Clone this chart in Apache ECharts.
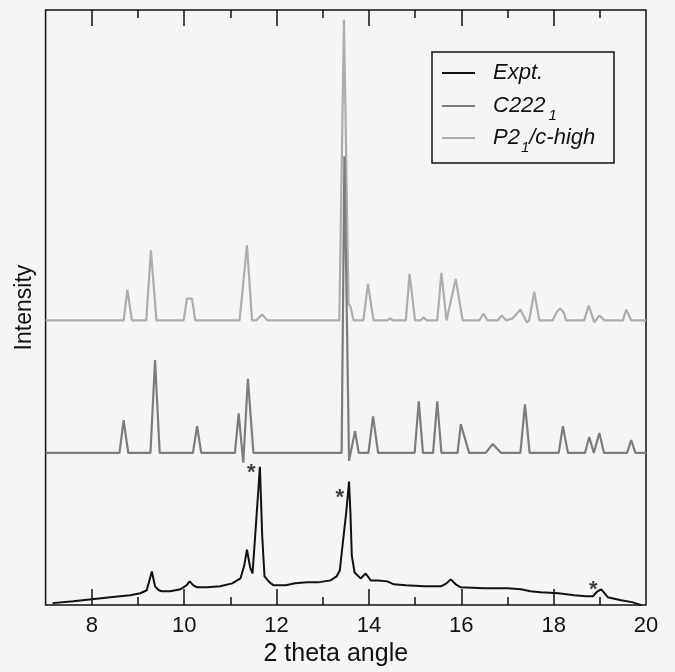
<!DOCTYPE html>
<html><head><meta charset="utf-8">
<script src="https://cdn.jsdelivr.net/npm/echarts@6/dist/echarts.min.js"></script>
<style>html,body{margin:0;padding:0;background:#f5f5f5}#c{width:675px;height:672px}</style>
</head><body><div id="c"></div>
<script>
// ---------- data ----------
const seriesNames = ['Expt.', 'C222₁', 'P2₁/c-high'];
const xRange = [7, 20];
const yRange = [0, 602];
const majorTicks = [8, 10, 12, 14, 16, 18, 20];
const minorTicks = [9, 11, 13, 15, 17, 19];

// experimental pattern [2theta, intensity]
const exptData = [
  [7.15,2],[7.6,4],[8.0,6],[8.4,8],[8.83,10],[9.05,12],[9.19,15],[9.30,34],[9.37,19],[9.45,15],
  [9.52,14],[9.7,14],[9.92,16],[10.05,20],[10.12,24],[10.2,20],[10.28,18],[10.5,18],[10.78,19],
  [11.04,22],[11.22,27],[11.30,40],[11.36,56],[11.43,38],[11.48,32],[11.56,85],[11.64,140],
  [11.69,70],[11.74,29],[11.85,23],[11.94,20],[12.2,20],[12.4,22],[12.66,23],[12.9,23],[13.17,25],
  [13.30,29],[13.37,35],[13.44,65],[13.51,94],[13.57,125],[13.60,94],[13.63,50],[13.69,33],
  [13.82,27],[13.93,32],[14.04,25],[14.2,25],[14.40,24],[14.54,21],[14.8,20],[15.2,19],[15.56,19],
  [15.68,22],[15.77,26],[15.88,21],[15.99,18],[16.5,17],[17.0,17],[17.29,16],[17.5,14],[17.72,13],
  [18.1,12],[18.45,10],[18.7,9],[18.85,9],[18.95,14],[19.03,16],[19.1,12],[19.17,8],[19.46,5],
  [19.70,3],[19.90,0]
];

// simulated C222_1 pattern (relative to its own baseline)
const c222Data = [
  [7.0,0],[8.6,0],[8.69,33],[8.79,0],
  [9.27,0],[9.37,94],[9.47,0],
  [10.19,0],[10.28,27],[10.37,0],
  [11.10,0],[11.18,40],[11.28,-10],[11.38,75],[11.50,0],
  [13.41,0],[13.47,300],[13.57,-8],[13.70,22],[13.78,0],
  [13.99,0],[14.09,37],[14.20,0],
  [14.99,0],[15.08,52],[15.17,0],
  [15.39,0],[15.48,52],[15.57,0],
  [15.92,0],[15.99,29],[16.17,0],
  [16.53,0],[16.68,9],[16.86,0],
  [17.28,0],[17.38,49],[17.48,0],
  [18.11,0],[18.20,27],[18.31,0],
  [18.68,0],[18.77,16],[18.87,0],[18.99,20],[19.09,0],
  [19.59,0],[19.68,13],[19.77,0],[20,0]
];

// simulated P2_1/c-high pattern (relative to its own baseline)
const p21cData = [
  [7.0,0],[8.69,0],[8.77,31],[8.87,0],
  [9.18,0],[9.28,71],[9.40,0],
  [9.99,0],[10.06,22],[10.17,22],[10.24,0],
  [11.20,0],[11.36,76],[11.47,0],[11.56,0],[11.69,6],[11.80,0],
  [13.36,0],[13.46,304],[13.56,17],[13.60,14],[13.67,0],
  [13.88,0],[13.98,37],[14.10,0],
  [14.40,0],[14.46,2],[14.52,0],
  [14.80,0],[14.88,47],[15.00,0],
  [15.12,0],[15.18,3],[15.26,0],
  [15.48,0],[15.57,48],[15.68,0],[15.88,42],[16.03,0],
  [16.39,0],[16.48,7],[16.57,0],
  [16.79,0],[16.88,5],[16.97,0],
  [17.11,2],[17.28,11],[17.42,-2],[17.47,0],[17.58,29],[17.69,0],
  [17.98,0],[18.06,8],[18.14,12],[18.22,8],[18.27,0],
  [18.66,0],[18.76,15],[18.88,-2],[18.99,5],[19.10,0],
  [19.50,0],[19.57,11],[19.68,0],[20,0]
];

const c222Offset = 154;
const p21cOffset = 288;

// asterisks marking impurity peaks in the experiment
const starPoints = [[11.455,140],[13.37,114],[18.86,21]];

// ---------- chart ----------
const FONT = '"Liberation Sans", Arial, Helvetica, sans-serif';
const shift = (arr, off) => arr.map(p => [p[0], p[1] + off]);
const colors = ['#111111', '#7c7c7c', '#adadad'];

const ctx = document.createElement('canvas').getContext('2d');
function tw(t, size) { ctx.font = 'italic ' + size + 'px ' + FONT; return ctx.measureText(t).width; }

const axisBase = {
  type: 'value', min: xRange[0], max: xRange[1], interval: 1,
  axisLine: { show: false }, splitLine: { show: false }
};
const tickStyle = { color: '#111', width: 1.5 };

const LX = 493, FS = 22, SFS = 15, SUBDY = 10;
const rowY = [73, 106, 138];
function txt(t, x, y, size) {
  return { type: 'text', x: x, y: y, style: { text: t, fontSize: size, fontStyle: 'italic', fontFamily: FONT, fill: '#111', verticalAlign: 'middle' } };
}
const legendGraphic = [
  { type: 'rect', shape: { x: 432, y: 52, width: 182, height: 111 }, style: { fill: 'none', stroke: '#111', lineWidth: 1.5 } },
  { type: 'line', shape: { x1: 442, y1: rowY[0], x2: 475, y2: rowY[0] }, style: { stroke: colors[0], lineWidth: 2 } },
  txt('Expt.', LX, rowY[0], FS),
  { type: 'line', shape: { x1: 442, y1: rowY[1], x2: 475, y2: rowY[1] }, style: { stroke: colors[1], lineWidth: 2 } },
  txt('C222', LX, rowY[1], FS),
  txt('1', LX + tw('C222', FS) + 3, rowY[1] + SUBDY, SFS),
  { type: 'line', shape: { x1: 442, y1: rowY[2], x2: 475, y2: rowY[2] }, style: { stroke: colors[2], lineWidth: 2 } },
  txt('P2', LX, rowY[2], FS),
  txt('1', LX + tw('P2', FS) + 1, rowY[2] + SUBDY, SFS),
  txt('/c-high', LX + tw('P2', FS) + tw('1', SFS) + 1, rowY[2], FS)
];

const chart = echarts.init(document.getElementById('c'), null, { renderer: 'canvas' });
chart.setOption({
  backgroundColor: '#f5f5f5',
  animation: false,
  grid: { left: 45.6, right: 29, top: 10, bottom: 60, show: true, borderColor: '#111', borderWidth: 1.5, backgroundColor: 'transparent' },
  xAxis: [
    Object.assign({}, axisBase, {
      position: 'bottom',
      axisTick: { show: true, inside: true, length: 16, customValues: majorTicks.slice(0, -1), lineStyle: tickStyle },
      axisLabel: { show: true, customValues: majorTicks, margin: 10, fontSize: 22, color: '#111', fontFamily: FONT },
      name: '2 theta angle', nameLocation: 'middle', nameGap: 32,
      nameTextStyle: { fontSize: 25, color: '#111', fontFamily: FONT, padding: [0, 20, 0, 0] }
    }),
    Object.assign({}, axisBase, {
      position: 'bottom',
      axisTick: { show: true, inside: true, length: 8, customValues: minorTicks, lineStyle: tickStyle },
      axisLabel: { show: false }
    }),
    Object.assign({}, axisBase, {
      position: 'top',
      axisTick: { show: true, inside: true, length: 16, customValues: majorTicks.slice(0, -1), lineStyle: tickStyle },
      axisLabel: { show: false }
    }),
    Object.assign({}, axisBase, {
      position: 'top',
      axisTick: { show: true, inside: true, length: 8, customValues: minorTicks, lineStyle: tickStyle },
      axisLabel: { show: false }
    })
  ],
  yAxis: [{
    type: 'value', min: yRange[0], max: yRange[1],
    axisLine: { show: false }, axisTick: { show: false }, axisLabel: { show: false }, splitLine: { show: false },
    name: 'Intensity', nameLocation: 'middle', nameGap: 9, nameRotate: 90,
    nameTextStyle: { fontSize: 23, color: '#111', fontFamily: FONT }
  }],
  series: [
    { name: seriesNames[2], type: 'line', data: shift(p21cData, p21cOffset), showSymbol: false, z: 2,
      lineStyle: { color: colors[2], width: 2.2 }, itemStyle: { color: colors[2] } },
    { name: seriesNames[1], type: 'line', data: shift(c222Data, c222Offset), showSymbol: false, z: 3,
      lineStyle: { color: colors[1], width: 2.2 }, itemStyle: { color: colors[1] } },
    { name: seriesNames[0], type: 'line', data: exptData, showSymbol: false, z: 4,
      lineStyle: { color: colors[0], width: 2 }, itemStyle: { color: colors[0] } },
    { name: 'stars', type: 'scatter', data: starPoints, symbolSize: 0, z: 5,
      label: { show: true, formatter: '*', position: 'inside', fontSize: 22, fontWeight: 'bold', color: '#111', fontFamily: FONT, offset: [0, 6] } }
  ],
  graphic: legendGraphic
});
</script>
</body></html>
